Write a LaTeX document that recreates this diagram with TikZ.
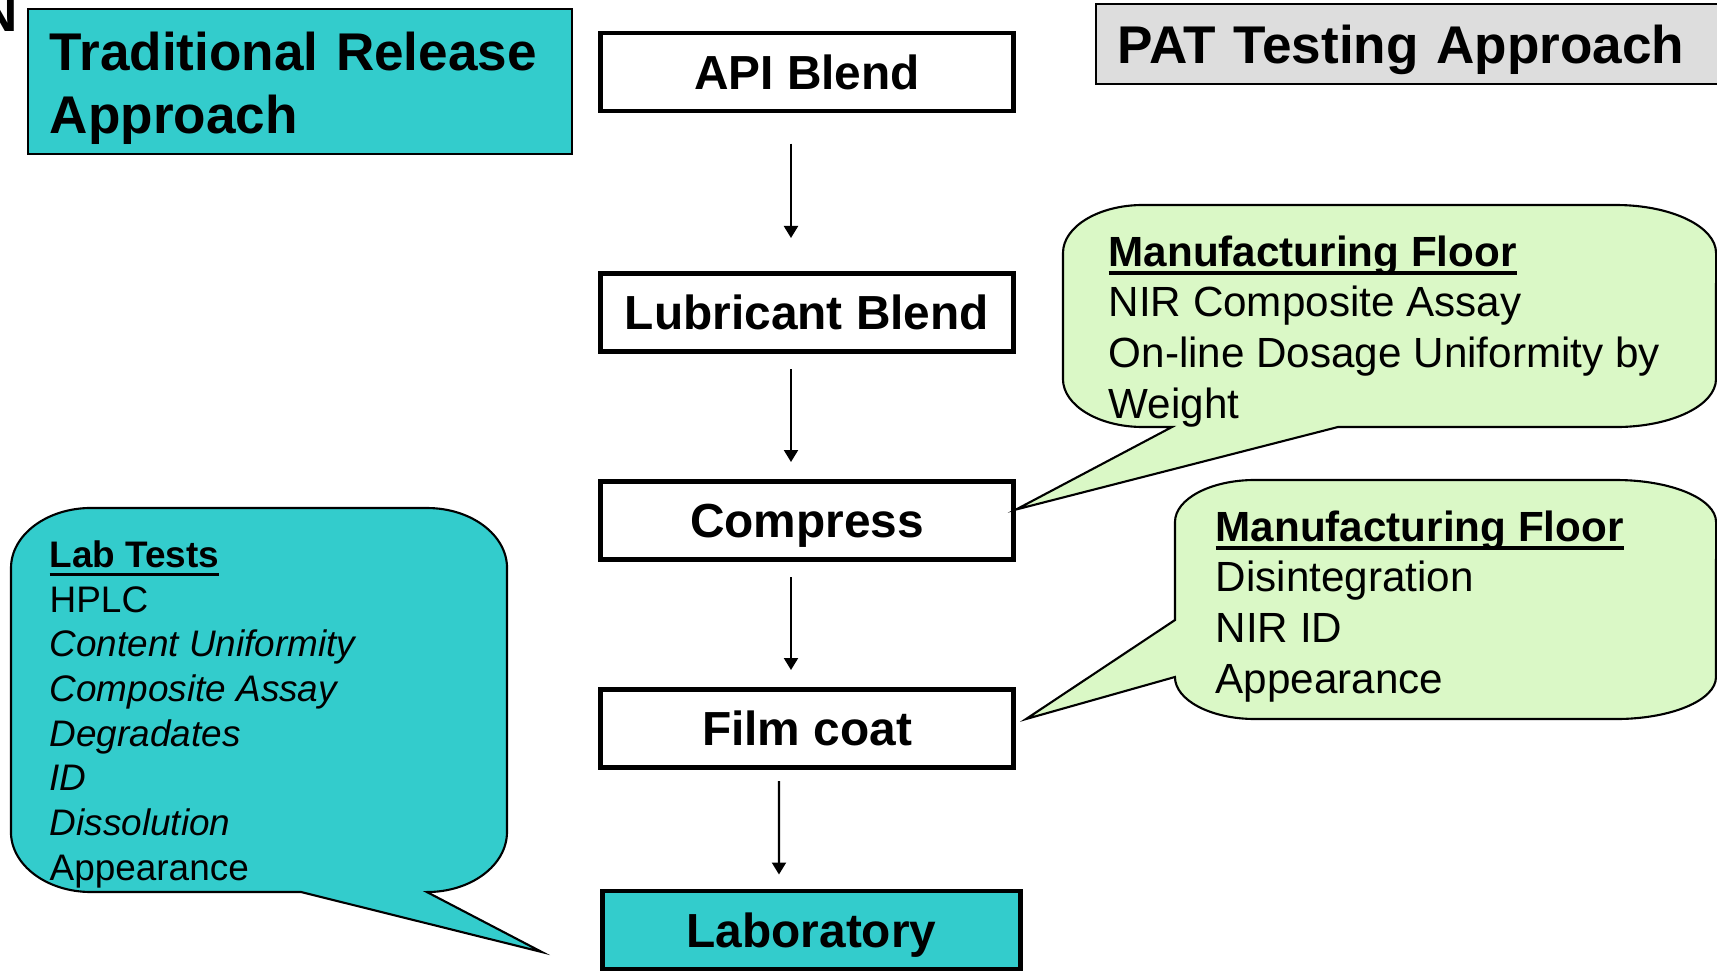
\documentclass[tikz,border=0pt]{standalone}
\usepackage{fontspec}
\setmainfont{Liberation Sans}
\usetikzlibrary{arrows.meta, positioning}

\definecolor{labteal}{RGB}{51,204,204}
\definecolor{floorgreen}{RGB}{218,248,198}
\definecolor{patgray}{RGB}{221,221,221}

% underlined bold heading of a bubble
\newcommand{\headline}[1]{\setbox0\hbox{\bfseries #1}\rlap{\rule[-2.5pt]{\wd0}{1pt}}\box0}

\begin{document}
\begin{tikzpicture}[x=0.01cm, y=-0.01cm,
    >={Triangle[width=0.14cm,length=0.12cm]},
    stage/.style={draw, line width=1.4pt, minimum width=4.13cm, minimum height=0.78cm,
        text depth=0pt, font=\fontsize{13.6}{16}\selectfont\bfseries},
    heading/.style={draw, line width=0.5pt, inner xsep=0.22cm, anchor=west, align=left,
        text depth=0pt, font=\fontsize{15.1}{17.9}\selectfont\bfseries},
    bubble/.style={draw, line width=0.6pt},
    flow/.style={->, line width=0.6pt}]

    \useasboundingbox (0,0) rectangle (1717,972);

    \node[anchor=base east, inner sep=0, font=\fontsize{15.1}{18}\selectfont\bfseries] (cutoff) at (19,31) {N};

    \node[heading, fill=labteal, text width=5.0cm, minimum height=1.45cm, text depth=0.6cm] (trad) at (27,81.5) {Traditional Release\\Approach};
    \node[heading, fill=patgray, text width=6.0cm, minimum height=0.80cm] (pat) at (1095,44) {PAT Testing Approach};

    \node[stage]                (api)      at (807,72)    {API Blend};
    \node[stage]                (lub)      at (807,312.5) {Lubricant Blend};
    \node[stage]                (compress) at (807,520.5) {Compress};
    \node[stage]                (film)     at (807,728.5) {Film coat};
    \node[stage, fill=labteal, minimum width=4.18cm] (lab) at (811.5,930) {Laboratory};

    \draw[flow, shorten <=0.3cm, shorten >=0.33cm] ([xshift=-0.16cm]api.south) -- ([xshift=-0.16cm]lub.north);
    \draw[flow, shorten <=0.15cm, shorten >=0.17cm] ([xshift=-0.16cm]lub.south) -- ([xshift=-0.16cm]compress.north);
    \draw[flow, shorten <=0.15cm, shorten >=0.17cm] ([xshift=-0.16cm]compress.south) -- ([xshift=-0.16cm]film.north);
    \draw[flow, shorten <=0.11cm, shorten >=0.14cm] ([xshift=-0.28cm]film.south) -- ([xshift=-0.325cm]lab.north);

    % bubbles
    \draw[bubble, fill=floorgreen]
        (1063,253) arc[start angle=180, end angle=90, x radius=0.8cm, y radius=0.48cm]
        -- (1616,205) arc[start angle=90, end angle=0, x radius=1cm, y radius=0.48cm]
        -- (1716,379) arc[start angle=0, end angle=-90, x radius=1cm, y radius=0.48cm]
        -- (1338,427) -- ([yshift=0.11cm]compress.east) -- (1172,427)
        -- (1143,427) arc[start angle=270, end angle=180, x radius=0.8cm, y radius=0.48cm]
        -- cycle;
    \draw[bubble, fill=floorgreen]
        (1175,522) arc[start angle=180, end angle=90, x radius=0.8cm, y radius=0.42cm]
        -- (1616,480) arc[start angle=90, end angle=0, x radius=1cm, y radius=0.42cm]
        -- (1716,677) arc[start angle=0, end angle=-90, x radius=1cm, y radius=0.42cm]
        -- (1255,719) arc[start angle=270, end angle=180, x radius=0.8cm, y radius=0.42cm]
        -- ([shift={(0.1cm,0.095cm)}]film.east) -- (1175,620)
        -- cycle;
    \draw[bubble, fill=labteal]
        (11,568) arc[start angle=180, end angle=90, x radius=0.8cm, y radius=0.6cm]
        -- (427,508) arc[start angle=90, end angle=0, x radius=0.8cm, y radius=0.6cm]
        -- (507,832) arc[start angle=0, end angle=-90, x radius=0.8cm, y radius=0.6cm]
        -- ([shift={(-0.58cm,-0.22cm)}]lab.west) -- (301,892)
        -- (91,892) arc[start angle=270, end angle=180, x radius=0.8cm, y radius=0.6cm]
        -- cycle;

    \node[anchor=base west, align=left, inner sep=0, font=\fontsize{12}{14.4}\selectfont] (floorA) at (1108,418)
        {\headline{Manufacturing Floor}\\NIR Composite Assay\\On-line Dosage Uniformity by\\Weight};
    \node[anchor=base west, align=left, inner sep=0, font=\fontsize{12}{14.4}\selectfont] (floorB) at (1215,693)
        {\headline{Manufacturing Floor}\\Disintegration\\NIR ID\\Appearance};
    \node[anchor=base west, align=left, inner sep=0, font=\fontsize{10.5}{12.7}\selectfont] (labtests) at (49,880)
        {\headline{Lab Tests}\\HPLC\\\textit{Content Uniformity}\\\textit{Composite Assay}\\\textit{Degradates}\\\textit{ID}\\\textit{Dissolution}\\Appearance};
\end{tikzpicture}
\end{document}
